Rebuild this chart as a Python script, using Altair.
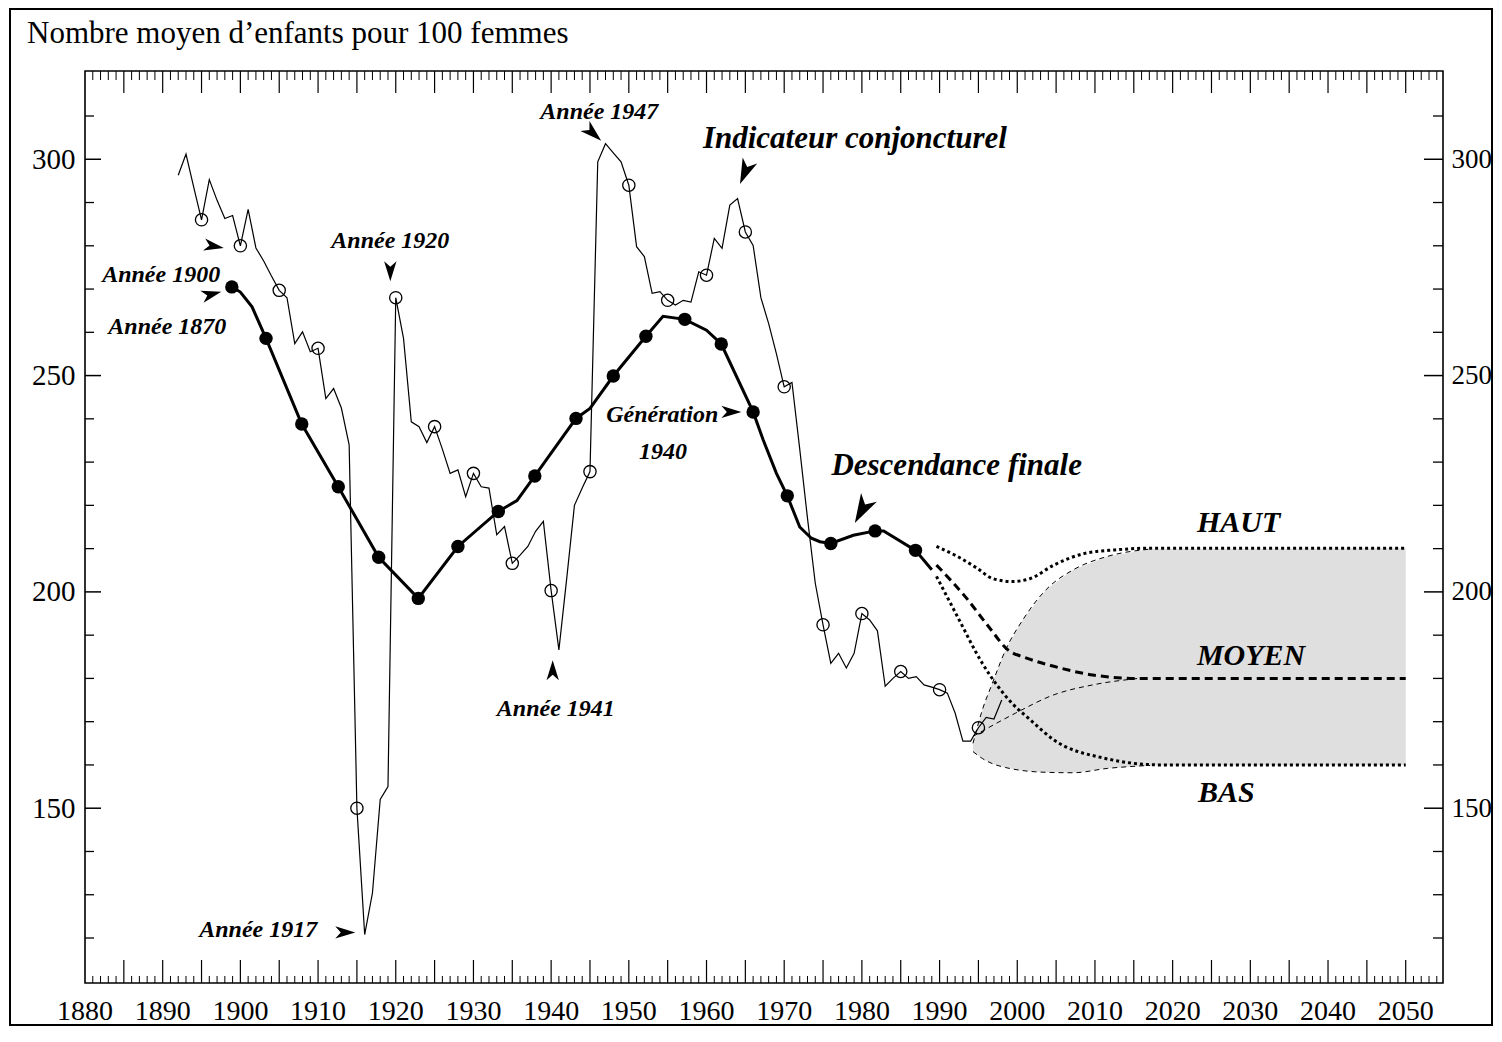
import altair as alt
import pandas as pd

# ---------------- data ----------------
TITLE = "Nombre moyen d’enfants pour 100 femmes"

# Indicateur conjoncturel de fécondité (annual)
icf_years = list(range(1892, 1999))
icf_values = [
    296.3, 301.2, 293.5, 286.0, 295.3, 290.5, 286.3, 287.0, 280.0,          # 1892-1900
    288.4, 279.5, 276.5, 273.0, 269.7, 268.0, 257.4, 260.1, 255.5, 256.3,   # 1901-1910
    244.7, 247.0, 242.5, 234.0, 150.0, 120.8, 130.4, 152.0, 155.0, 268.0,   # 1911-1920
    258.6, 239.3, 238.2, 234.5, 238.2, 233.0, 227.4, 228.2, 222.0, 227.4,   # 1921-1930
    224.3, 224.0, 213.2, 215.1, 206.6, 208.5, 210.5, 214.0, 216.3, 200.3,   # 1931-1940
    186.6, 203.0, 220.0, 224.0, 227.8, 299.4, 303.6, 301.5, 299.4, 294.0,   # 1941-1950
    279.8, 277.5, 269.0, 269.4, 267.4, 266.3, 267.4, 267.0, 274.0, 273.2,   # 1951-1960
    281.7, 279.4, 289.4, 290.9, 283.2, 280.1, 268.0, 262.0, 255.0, 247.4,   # 1961-1970
    248.4, 233.0, 217.0, 202.0, 192.4, 183.5, 185.8, 182.4, 185.8, 195.0,   # 1971-1980
    193.5, 191.0, 178.2, 180.0, 181.6, 180.0, 180.4, 178.5, 178.0, 177.4,   # 1981-1990
    176.6, 172.0, 165.5, 165.5, 168.6, 171.0, 170.6, 175.0,                 # 1991-1998
]

# Descendance finale by generation (plotted at calendar year)
gen_years = [1898.9, 1900.0, 1901.5, 1903.3, 1907.9, 1912.6, 1917.8, 1922.9, 1928.0,
             1933.2, 1935.6, 1937.9, 1943.2, 1945.0, 1948.0, 1952.2, 1954.4, 1957.2,
             1960.0, 1961.9, 1966.0, 1967.3, 1969.0, 1970.4, 1972.0, 1973.5, 1974.6,
             1976.0, 1978.9, 1981.7, 1982.8, 1986.9, 1989.0]
gen_values = [270.5, 269.3, 265.9, 258.6, 238.8, 224.3, 208.0, 198.5, 210.5,
              218.6, 221.1, 226.8, 240.1, 242.4, 249.9, 259.1, 263.7, 263.0,
              260.5, 257.3, 241.6, 235.1, 227.4, 222.2, 215.0, 212.4, 211.6,
              211.2, 213.1, 214.1, 214.1, 209.6, 205.1]
# Filled dots: generations 1870, 1875, ..., 1960
dot_years = [1898.9, 1903.3, 1907.9, 1912.6, 1917.8, 1922.9, 1928.0, 1933.2, 1937.9,
             1943.2, 1948.0, 1952.2, 1957.2, 1961.9, 1966.0, 1970.4, 1976.0, 1981.7, 1986.9]
dot_values = [270.5, 258.6, 238.8, 224.3, 208.0, 198.5, 210.5, 218.6, 226.8,
              240.1, 249.9, 259.1, 263.0, 257.3, 241.6, 222.2, 211.2, 214.1, 209.6]

# Projections of descendance finale
haut_years = [1989.6, 1992.3, 1994.8, 1996.8, 1999.3, 2001.7, 2004.7, 2008.7, 2012.6, 2017.1, 2050]
haut_values = [210.5, 208.2, 205.5, 203.1, 202.4, 203.1, 206.2, 208.9, 209.7, 210.1, 210.1]
moyen_years = [1989.6, 1993.3, 1996.3, 1998.8, 2001.2, 2004.7, 2009.7, 2015.6, 2050]
moyen_values = [206.2, 198.9, 192.0, 186.6, 184.7, 182.8, 180.8, 180.0, 180.0]
bas_years = [1989.6, 1992.3, 1995.5, 1999.3, 2001.7, 2004.7, 2011.1, 2018.6, 2050]
bas_values = [203.6, 194.3, 183.5, 174.3, 170.4, 165.8, 161.6, 160.0, 160.0]

# Projections of the indicateur conjoncturel (shaded fan)
band_years = [1994.3, 1995.5, 1996.8, 1998.5, 2000.7, 2003.7, 2007.2, 2011.6, 2017.1, 2050]
band_upper = [165.0, 172.7, 178.9, 186.6, 193.5, 200.5, 205.1, 208.2, 209.9, 210.1]
band_lower = [163.1, 161.5, 160.3, 159.4, 158.7, 158.3, 158.2, 159.2, 159.9, 160.0]
mid_years = [1994.3, 1999.8, 2004.7, 2009.7, 2015.6]
mid_values = [166.6, 172.0, 176.2, 178.5, 180.0]

# Annotations
ann_text = ["Année 1900", "Année 1870", "Année 1920", "Année 1917", "Année 1941",
            "Année 1947", "Indicateur conjoncturel", "Génération", "1940",
            "Descendance finale", "HAUT", "MOYEN", "BAS"]
ann_x = [1889.8, 1890.6, 1919.3, 1902.3, 1940.6, 1946.2, 1979.1, 1954.3, 1954.4,
         1992.2, 2028.5, 2030.1, 2026.9]
ann_y = [271.6, 259.7, 279.4, 120.3, 171.3, 309.4, 302.5, 239.3, 230.8,
         227.0, 213.9, 183.1, 151.5]
ann_fs = [24, 24, 24, 24, 24, 24, 31, 24, 24, 31, 30, 30, 30]

arrow_x = [1896.6, 1896.3, 1919.3, 1913.5, 1940.2, 1945.4, 1964.95, 1963.2, 1980.0]
arrow_y = [279.9, 268.8, 274.1, 121.3, 181.9, 306.0, 297.0, 241.6, 218.9]
arrow_angle = [10, 345, 90, 0, 270, 42, 113, 0, 119]
arrow_size = [400, 400, 400, 400, 400, 480, 650, 400, 850]

# Axis ticks / labels
x_label_values = list(range(1880, 2051, 10))
y_label_values = [150, 200, 250, 300]
y_tick_values = list(range(120, 311, 10))
year_tick_values = list(range(1881, 2055))

# ---------------- chart ----------------
W, H = 1358, 912
FONT = "Liberation Serif"
xs = alt.Scale(domain=[1880, 2054.8], nice=False, zero=False)
ys = alt.Scale(domain=[109.6, 320.4], nice=False, zero=False)


def X(field="annee"):
    return alt.X(f"{field}:Q", scale=xs, axis=None)


def Y(field="valeur"):
    return alt.Y(f"{field}:Q", scale=ys, axis=None)


icf = pd.DataFrame({"annee": icf_years, "valeur": icf_values})
circ = icf[icf["annee"] % 5 == 0]
gen = pd.DataFrame({"annee": gen_years, "valeur": gen_values})
dots = pd.DataFrame({"annee": dot_years, "valeur": dot_values})
haut = pd.DataFrame({"annee": haut_years, "valeur": haut_values})
moyen = pd.DataFrame({"annee": moyen_years, "valeur": moyen_values})
bas = pd.DataFrame({"annee": bas_years, "valeur": bas_values})
band = pd.DataFrame({"annee": band_years, "haut": band_upper, "bas": band_lower})
band_edge_up = pd.DataFrame({"annee": band_years[:-1], "valeur": band_upper[:-1]})
band_edge_lo = pd.DataFrame({"annee": band_years[:-1], "valeur": band_lower[:-1]})
mid = pd.DataFrame({"annee": mid_years, "valeur": mid_values})
ann = pd.DataFrame({"texte": ann_text, "annee": ann_x, "valeur": ann_y, "fs": ann_fs})
arrows = pd.DataFrame({"annee": arrow_x, "valeur": arrow_y, "ang": arrow_angle, "sz": arrow_size})
xlab = pd.DataFrame({"annee": x_label_values, "lab": [str(v) for v in x_label_values]})

yt = pd.DataFrame({"valeur": y_tick_values})
yt["major"] = yt["valeur"] % 50 == 0
xt = pd.DataFrame({"annee": year_tick_values})
xt["major"] = xt["annee"] % 5 == 0

# outer frame of the figure
frame = alt.Chart(alt.Data(values=[{}])).mark_rect(
    fillOpacity=0, stroke="black", strokeWidth=2
).encode(x=alt.value(-75), x2=alt.value(1407), y=alt.value(-62), y2=alt.value(954))

title = alt.Chart(alt.Data(values=[{"t": TITLE}])).mark_text(
    align="left", baseline="alphabetic", fontSize=31, font=FONT, color="black"
).encode(x=alt.value(-58), y=alt.value(-28), text="t:N")

band_area = alt.Chart(band).mark_area(color="#dcdcdc", opacity=0.9).encode(
    x=X(), y=Y("haut"), y2="bas:Q"
)

thin_dash = dict(color="black", strokeWidth=1, strokeDash=[5, 4], interpolate="monotone")
edge_up = alt.Chart(band_edge_up).mark_line(**thin_dash).encode(x=X(), y=Y())
edge_lo = alt.Chart(band_edge_lo).mark_line(**thin_dash).encode(x=X(), y=Y())
edge_mid = alt.Chart(mid).mark_line(**thin_dash).encode(x=X(), y=Y())

# inward ticks
left_minor = alt.Chart(yt[~yt["major"]]).mark_rule(color="black", strokeWidth=1.3).encode(
    y=Y(), x=alt.value(0), x2=alt.value(9))
left_major = alt.Chart(yt[yt["major"]]).mark_rule(color="black", strokeWidth=1.5).encode(
    y=Y(), x=alt.value(0), x2=alt.value(16))
right_minor = alt.Chart(yt[~yt["major"]]).mark_rule(color="black", strokeWidth=1.3).encode(
    y=Y(), x=alt.value(W), x2=alt.value(W - 10))
right_major = alt.Chart(yt[yt["major"]]).mark_rule(color="black", strokeWidth=1.5).encode(
    y=Y(), x=alt.value(W), x2=alt.value(W - 19))
bot_minor = alt.Chart(xt[~xt["major"]]).mark_rule(color="black", strokeWidth=1).encode(
    x=X(), y=alt.value(H), y2=alt.value(H - 7))
bot_major = alt.Chart(xt[xt["major"]]).mark_rule(color="black", strokeWidth=1.2).encode(
    x=X(), y=alt.value(H), y2=alt.value(H - 23))
top_minor = alt.Chart(xt[~xt["major"]]).mark_rule(color="black", strokeWidth=1).encode(
    x=X(), y=alt.value(0), y2=alt.value(9))
top_major = alt.Chart(xt[xt["major"]]).mark_rule(color="black", strokeWidth=1.2).encode(
    x=X(), y=alt.value(0), y2=alt.value(22))

# x tick labels (years), placed through the x scale
x_labels = alt.Chart(xlab).mark_text(
    font=FONT, fontSize=28, align="center", baseline="alphabetic", color="black"
).encode(x=X(), y=alt.value(H + 37), text="lab:N")

# thin line with left y-axis labels
icf_line = alt.Chart(icf).mark_line(color="black", strokeWidth=1.2).encode(
    x=X(),
    y=alt.Y("valeur:Q", scale=ys, axis=alt.Axis(
        values=y_label_values, format="d", title=None, labelFont=FONT, labelFontSize=29,
        labelColor="black", labelPadding=10, labelFlush=False, labelOverlap=False,
        ticks=False, tickSize=0, domain=False, grid=False, orient="left")),
)

# open circles with right y-axis labels
circles = alt.Chart(circ).mark_point(
    shape="circle", filled=False, color="black", strokeWidth=1.3, size=150, opacity=1
).encode(
    x=X(),
    y=alt.Y("valeur:Q", scale=ys, axis=alt.Axis(
        values=y_label_values, format="d", title=None, labelFont=FONT, labelFontSize=27,
        labelColor="black", labelPadding=8, labelFlush=False, labelOverlap=False,
        ticks=False, tickSize=0, domain=False, grid=False, orient="right")),
)

gen_line = alt.Chart(gen).mark_line(color="black", strokeWidth=3).encode(x=X(), y=Y())
gen_dots = alt.Chart(dots).mark_point(
    shape="circle", filled=True, color="black", size=180, opacity=1).encode(x=X(), y=Y())

haut_line = alt.Chart(haut).mark_line(color="black", strokeWidth=3, strokeDash=[3, 3],
                                      interpolate="monotone").encode(x=X(), y=Y())
moyen_line = alt.Chart(moyen).mark_line(color="black", strokeWidth=3, strokeDash=[8, 5],
                                        interpolate="monotone").encode(x=X(), y=Y())
bas_line = alt.Chart(bas).mark_line(color="black", strokeWidth=3, strokeDash=[3, 3],
                                    interpolate="monotone").encode(x=X(), y=Y())

texts = alt.Chart(ann).mark_text(
    font=FONT, fontStyle="italic", fontWeight="bold", align="center",
    baseline="alphabetic", color="black"
).encode(x=X(), y=Y(), text="texte:N", size=alt.Size("fs:Q", scale=None, legend=None))

arrow_marks = alt.Chart(arrows).mark_point(
    shape="M1,0L-1,-0.62L-0.45,0L-1,0.62Z", filled=True, color="black", opacity=1
).encode(x=X(), y=Y(), angle=alt.Angle("ang:Q", scale=None),
         size=alt.Size("sz:Q", scale=None, legend=None))

chart = alt.layer(
    frame, band_area, edge_up, edge_lo, edge_mid,
    left_minor, left_major, right_minor, right_major,
    bot_minor, bot_major, top_minor, top_major, x_labels,
    icf_line, circles, gen_line, gen_dots,
    haut_line, moyen_line, bas_line,
    texts, arrow_marks, title,
).properties(
    width=W, height=H,
    padding={"left": 77, "top": 63, "right": 51, "bottom": 43},
    autosize=alt.AutoSizeParams(type="none"),
    background="white",
).configure_view(stroke="black", strokeWidth=1.6)

chart.save("out.html", embed_options={"renderer": "svg", "actions": False})
